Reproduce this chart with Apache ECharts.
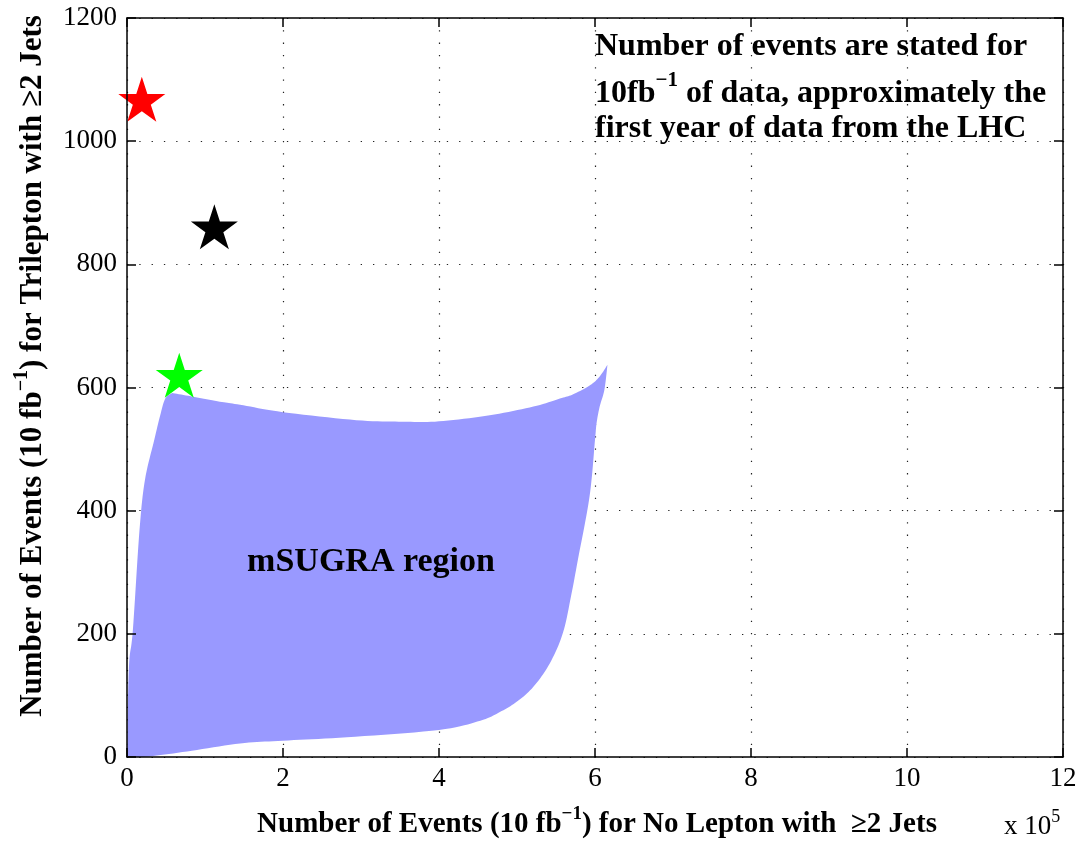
<!DOCTYPE html>
<html>
<head>
<meta charset="utf-8">
<script src="https://cdn.jsdelivr.net/npm/echarts@6/dist/echarts.min.js"></script>
<style>html,body{margin:0;padding:0;background:#fff;}#main{width:1082px;height:844px;}</style>
</head>
<body>
<div id="main"></div>
<script>
// ---- data (x in units of 10^5 events) ----
const xTicks = [0, 2, 4, 6, 8, 10, 12];
const yTicks = [0, 200, 400, 600, 800, 1000, 1200];

// mSUGRA region outline, three edges meeting at sharp corners
// bottom + right edge: origin -> top-right tip
const edgeLowX = [0, 0.25, 0.77, 1.45, 2.0, 2.82, 4.0, 4.53, 4.78, 5.0, 5.21, 5.42, 5.59, 5.70, 5.78, 5.93, 6.0, 6.02, 6.06, 6.12, 6.16];
const edgeLowY = [0, 0.5, 9, 22, 26.5, 32, 44, 59, 73, 90, 114, 152, 202, 266, 320, 423, 515, 542, 569, 596, 637];
// top edge: tip -> top-left corner
const edgeTopX = [6.16, 6.06, 5.94, 5.72, 5.55, 5.21, 4.65, 4.0, 3.54, 2.94, 2.0, 1.45, 1.19, 0.85, 0.58];
const edgeTopY = [637, 618, 604, 589, 582, 569, 555, 545, 544.5, 547, 560, 572, 577, 585, 591];
// left edge: top-left corner -> origin
const edgeLeftX = [0.58, 0.49, 0.42, 0.35, 0.23, 0.16, 0.075, 0.03, 0.01, 0];
const edgeLeftY = [591, 582, 552, 515, 450, 368, 206, 157, 80, 0];

// star markers
const starX = [0.19, 1.12, 0.67];
const starY = [1064, 857, 616];
const starColors = ['#ff0000', '#000000', '#00ff00'];

const SERIF = '"Liberation Serif", "Times New Roman", serif';
const STAR = 'path://M100,0 L122.45,69.1 L195.1,69.1 L136.33,111.8 L158.8,180.9 L100,138.2 L41.2,180.9 L63.67,111.8 L4.9,69.1 L77.55,69.1 Z';

const chart = echarts.init(document.getElementById('main'), null, {renderer: 'canvas'});

const lineStyle = {color: '#000', width: 1.5};
const gridLine = {show: true, lineStyle: {color: '#222', width: 1.2, type: [1.3, 11]}};

function xAx(extra) {
  return Object.assign({type: 'value', min: 0, max: 12, interval: 2, axisLabel: {show: false}, axisTick: {show: false}, axisLine: {show: false}, splitLine: {show: false}}, extra);
}
function yAx(extra) {
  return Object.assign({type: 'value', min: 0, max: 1200, interval: 200, axisLabel: {show: false}, axisTick: {show: false}, axisLine: {show: false}, splitLine: {show: false}}, extra);
}

// smooth curve through pixel points (Catmull-Rom, rendered as dense polyline)
function smoothThrough(p) {
  const out = [p[0]];
  for (let i = 0; i < p.length - 1; i++) {
    const p0 = p[i - 1] || p[i], p1 = p[i], p2 = p[i + 1], p3 = p[i + 2] || p[i + 1];
    const c1 = [p1[0] + (p2[0] - p0[0]) / 6, p1[1] + (p2[1] - p0[1]) / 6];
    const c2 = [p2[0] - (p3[0] - p1[0]) / 6, p2[1] - (p3[1] - p1[1]) / 6];
    for (let k = 1; k <= 10; k++) {
      const t = k / 10, u = 1 - t;
      out.push([
        u * u * u * p1[0] + 3 * u * u * t * c1[0] + 3 * u * t * t * c2[0] + t * t * t * p2[0],
        u * u * u * p1[1] + 3 * u * u * t * c1[1] + 3 * u * t * t * c2[1] + t * t * t * p2[1]
      ]);
    }
  }
  return out;
}

const regionData = [].concat(
  edgeLowX.map((x, i) => [x, edgeLowY[i]]),
  edgeTopX.map((x, i) => [x, edgeTopY[i]]),
  edgeLeftX.map((x, i) => [x, edgeLeftY[i]])
);

const option = {
  animation: false,
  backgroundColor: '#fff',
  grid: {left: 127, right: 19, top: 18, bottom: 87, containLabel: false, outerBoundsMode: 'none'},
  xAxis: [
    xAx({position: 'bottom', splitLine: gridLine}),
    xAx({position: 'bottom', z: 10,
      axisLine: {show: true, onZero: false, lineStyle: lineStyle},
      axisTick: {show: true, inside: true, length: 9, lineStyle: lineStyle},
      axisLabel: {show: true, margin: 8, color: '#000', fontSize: 27, fontFamily: SERIF,
        formatter: v => (xTicks.indexOf(v) >= 0 ? String(v) : '')}}),
    xAx({position: 'top', z: 10,
      axisLine: {show: true, onZero: false, lineStyle: lineStyle},
      axisTick: {show: true, inside: true, length: 9, lineStyle: lineStyle}})
  ],
  yAxis: [
    yAx({position: 'left', splitLine: gridLine}),
    yAx({position: 'left', z: 10,
      axisLine: {show: true, onZero: false, lineStyle: lineStyle},
      axisTick: {show: true, inside: true, length: 9, lineStyle: lineStyle},
      axisLabel: {show: true, margin: 10, color: '#000', fontSize: 27, fontFamily: SERIF,
        formatter: v => (yTicks.indexOf(v) >= 0 ? String(v) : '')}}),
    yAx({position: 'right', z: 10,
      axisLine: {show: true, onZero: false, lineStyle: lineStyle},
      axisTick: {show: true, inside: true, length: 9, lineStyle: lineStyle}})
  ],
  series: [
    {
      type: 'custom',
      xAxisIndex: 0, yAxisIndex: 0,
      z: 2,
      clip: true,
      data: regionData,
      renderItem: function (params, api) {
        if (params.dataIndex !== 0) return null;
        const low = smoothThrough(edgeLowX.map((x, i) => api.coord([x, edgeLowY[i]])));
        const top = smoothThrough(edgeTopX.map((x, i) => api.coord([x, edgeTopY[i]])));
        const left = smoothThrough(edgeLeftX.map((x, i) => api.coord([x, edgeLeftY[i]])));
        const pts = low.concat(top.slice(1), left.slice(1));
        return {type: 'polygon', shape: {points: pts}, style: {fill: '#9999ff', stroke: null}};
      }
    },
    {
      type: 'scatter',
      xAxisIndex: 0, yAxisIndex: 0,
      z: 5,
      symbol: STAR,
      symbolSize: [47, 45],
      symbolOffset: [0, -2.4],
      data: starX.map((x, i) => ({value: [x, starY[i]], itemStyle: {color: starColors[i], opacity: 1}}))
    }
  ],
  graphic: [
    {type: 'text', x: 371, y: 562, z: 20, style: {text: 'mSUGRA region', font: 'bold 34px ' + SERIF, fill: '#000', align: 'center', verticalAlign: 'middle'}},
    {type: 'text', x: 595, y: 47, z: 20, style: {text: 'Number of events are stated for', font: 'bold 32px ' + SERIF, fill: '#000', align: 'left', verticalAlign: 'middle'}},
    {type: 'text', x: 595, y: 90, z: 20, style: {
      text: '{n|10fb}{s|−1}{n| of data, approximately the}', align: 'left', verticalAlign: 'middle',
      rich: {n: {font: 'bold 32px ' + SERIF, fill: '#000', verticalAlign: 'bottom', lineHeight: 36},
             s: {font: 'bold 21px ' + SERIF, fill: '#000', verticalAlign: 'top', padding: [0, 0, 19, 0]}}}},
    {type: 'text', x: 595, y: 129, z: 20, style: {text: 'first year of data from the LHC', font: 'bold 32px ' + SERIF, fill: '#000', align: 'left', verticalAlign: 'middle'}},
    // x axis title
    {type: 'text', x: 597, y: 822, z: 20, style: {
      text: '{n|Number of Events (10 fb}{s|−1}{n|) for No Lepton with  ≥2 Jets}', align: 'center', verticalAlign: 'middle',
      rich: {n: {font: 'bold 29px ' + SERIF, fill: '#000', verticalAlign: 'bottom', lineHeight: 33},
             s: {font: 'bold 19px ' + SERIF, fill: '#000', verticalAlign: 'top', padding: [0, 0, 16, 0]}}}},
    // y axis title
    {type: 'text', x: 30, y: 366, rotation: Math.PI / 2, z: 20, style: {
      text: '{n|Number of Events (10 fb}{s|−1}{n|) for Trilepton with ≥2 Jets}', align: 'center', verticalAlign: 'middle',
      rich: {n: {font: 'bold 31px ' + SERIF, fill: '#000', verticalAlign: 'bottom', lineHeight: 35},
             s: {font: 'bold 20px ' + SERIF, fill: '#000', verticalAlign: 'top', padding: [0, 0, 16, 0]}}}},
    // x 10^5
    {type: 'text', x: 1004, y: 808, z: 20, style: {
      text: '{n|x 10}{s|5}', align: 'left', verticalAlign: 'top',
      rich: {n: {font: '27px ' + SERIF, fill: '#000', verticalAlign: 'bottom', lineHeight: 31},
             s: {font: '18px ' + SERIF, fill: '#000', verticalAlign: 'top', padding: [0, 0, 14, 0]}}}}
  ]
};
chart.setOption(option);
</script>
</body>
</html>
